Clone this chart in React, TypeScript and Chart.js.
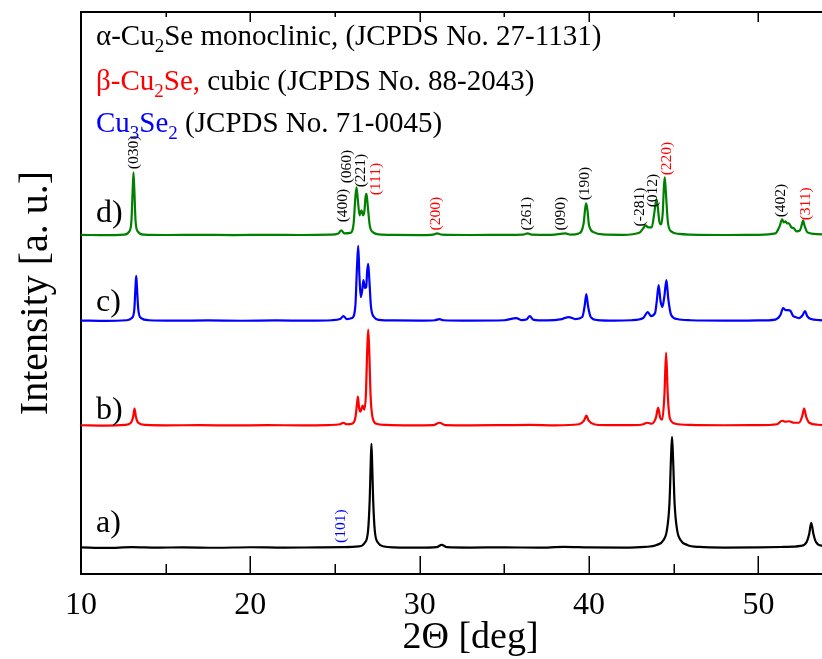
import React, { useEffect, useRef } from 'react';
import { Chart, registerables } from 'chart.js';

Chart.register(...registerables);

const FONT = 'Liberation Serif';

// Each trace: [2θ in deg, intensity above the trace's own baseline in a. u.]
const traceA: [number, number][] = [
  [10, 0.5], [11.5, 0], [13, 0.8], [14.5, 0.3], [16, 0.6], [18, 0.2], [20, 0.7], [22, 0.3], [24, 0.6],
  [25.5, 0.8], [26.4, 1.5], [26.75, 5], [26.95, 17], [27.05, 49], [27.11, 86], [27.15, 104], [27.19, 86],
  [27.25, 49], [27.35, 17], [27.55, 5], [27.9, 1.5], [28.5, 0.6], [30, 0.3], [31.0, 0.8], [31.3, 3],
  [31.6, 0.8], [33, 0.4], [35, 0.6], [37, 0.3], [38.5, 1.0], [40, 0.5], [42, 0.3], [43.3, 1], [44.0, 3],
  [44.4, 8], [44.6, 18], [44.75, 45], [44.84, 90], [44.9, 111], [44.96, 90], [45.05, 45], [45.2, 18],
  [45.4, 8], [45.8, 3], [46.5, 1], [48, 0.4], [50, 0.6], [51.5, 1], [52.5, 2], [52.85, 6], [53.0, 14],
  [53.12, 25], [53.25, 14], [53.4, 6], [53.8, 2], [54.5, 1], [56, 0.5],
];

const traceB: [number, number][] = [
  [10, 0.5], [11.5, 0.2], [12.6, 0.8], [12.95, 3], [13.08, 9], [13.16, 17], [13.24, 9], [13.38, 3],
  [13.8, 0.8], [15, 0.4], [17, 0.6], [19, 0.3], [21, 0.6], [23, 0.4], [24.6, 0.7], [25.3, 1.5],
  [25.48, 3], [25.7, 1.5], [26.0, 2], [26.2, 8], [26.3, 22], [26.35, 29], [26.42, 18], [26.5, 14],
  [26.58, 18], [26.64, 20], [26.72, 16], [26.82, 30], [26.9, 75], [26.96, 96], [27.02, 75], [27.1, 30],
  [27.22, 8], [27.45, 2], [28, 0.8], [29.5, 0.4], [30.8, 0.6], [31.17, 3], [31.5, 0.6], [33, 0.4],
  [35, 0.6], [36.5, 0.8], [38, 0.4], [39.4, 1.5], [39.7, 5], [39.84, 10], [39.98, 5], [40.3, 1.5],
  [41, 0.6], [42.5, 0.6], [43.2, 1.5], [43.43, 3], [43.7, 2], [43.95, 8], [44.08, 18], [44.2, 8],
  [44.32, 6], [44.45, 30], [44.55, 73], [44.65, 30], [44.78, 7], [45.1, 2], [46, 0.8], [48, 0.5],
  [50, 0.6], [51.1, 1.5], [51.4, 5], [51.6, 4], [51.8, 4.5], [52.1, 3], [52.4, 3], [52.58, 9],
  [52.7, 17], [52.82, 9], [53.0, 3], [53.5, 1], [55, 0.6], [56, 0.5],
];

const traceC: [number, number][] = [
  [10, 0.5], [11.5, 0.2], [12.7, 0.8], [13.0, 3], [13.15, 12], [13.22, 35], [13.26, 45], [13.3, 35],
  [13.38, 12], [13.55, 3], [14, 0.8], [15.5, 0.4], [17.5, 0.6], [19.5, 0.3], [21.5, 0.6], [23.5, 0.4],
  [24.8, 0.8], [25.3, 2], [25.5, 5], [25.7, 2], [26.0, 3], [26.2, 15], [26.3, 55], [26.37, 75],
  [26.44, 45], [26.52, 24], [26.6, 30], [26.68, 41], [26.76, 33], [26.84, 34], [26.9, 50], [26.96, 57],
  [27.03, 40], [27.12, 15], [27.3, 4], [27.6, 1.2], [28.5, 0.6], [30, 0.4], [30.9, 0.8], [31.17, 2],
  [31.4, 0.8], [33, 0.4], [35, 0.8], [35.7, 3], [36.0, 1], [36.3, 1.5], [36.5, 5], [36.7, 1.5],
  [37.5, 0.6], [38.4, 2], [38.8, 4], [39.2, 2], [39.6, 4], [39.74, 15], [39.84, 27], [39.94, 15],
  [40.1, 4], [40.5, 1], [41.5, 0.5], [42.5, 0.8], [43.2, 3], [43.47, 9], [43.65, 5], [43.9, 8],
  [44.0, 20], [44.11, 36], [44.22, 20], [44.33, 14], [44.45, 25], [44.57, 41], [44.68, 22], [44.85, 6],
  [45.2, 2], [46, 0.8], [48, 0.4], [50, 0.6], [51.0, 1.5], [51.3, 6], [51.46, 13], [51.6, 11],
  [51.75, 11], [51.9, 10], [52.05, 5], [52.2, 4], [52.4, 3], [52.62, 6], [52.75, 10], [52.88, 5],
  [53.1, 2], [53.6, 1], [55, 0.6], [56, 0.5],
];

const traceD: [number, number][] = [
  [10, 0.5], [11.5, 0.2], [12.55, 0.8], [12.85, 4], [12.98, 15], [13.05, 45], [13.1, 63], [13.15, 45],
  [13.22, 15], [13.35, 4], [13.7, 0.8], [15, 0.4], [17, 0.6], [19, 0.3], [21, 0.6], [23, 0.4],
  [24.7, 0.8], [25.2, 2], [25.37, 5], [25.55, 2], [25.9, 2.5], [26.1, 12], [26.2, 38], [26.27, 48],
  [26.35, 35], [26.45, 20], [26.56, 25], [26.66, 20], [26.74, 25], [26.8, 38], [26.86, 41.5],
  [26.93, 30], [27.05, 10], [27.25, 3], [27.6, 1], [28.5, 0.5], [30, 0.3], [30.8, 0.8], [31.03, 2],
  [31.3, 0.8], [33, 0.4], [35, 0.6], [36.1, 0.8], [36.38, 2], [36.6, 0.8], [37.8, 0.6], [38.6, 2],
  [38.9, 0.8], [39.4, 2], [39.68, 12], [39.78, 28], [39.83, 32], [39.9, 26], [40.0, 10], [40.3, 3],
  [40.8, 1], [42, 0.6], [43.0, 3], [43.2, 7], [43.33, 10], [43.5, 8], [43.7, 8], [43.85, 22],
  [43.95, 34], [43.98, 36], [44.05, 30], [44.15, 14], [44.25, 11], [44.35, 22], [44.42, 48],
  [44.47, 58], [44.53, 45], [44.65, 14], [44.85, 4], [45.3, 1.5], [46, 0.8], [48, 0.4], [50, 0.6],
  [51.0, 2], [51.25, 9], [51.4, 16], [51.5, 13], [51.6, 14], [51.7, 12], [51.8, 12], [51.95, 8],
  [52.1, 7], [52.25, 4], [52.45, 5], [52.57, 11], [52.64, 15], [52.72, 10], [52.9, 3], [53.3, 1.5],
  [54, 1], [56, 0.5],
];

const traceNames = ['a)', 'b)', 'c)', 'd)'];
const traceOffsets = [26, 148, 252.5, 338];
const traceColors = ['#000000', '#ff0000', '#0000ff', '#008000'];
const traceNameLift = [16, 7, 10, 13];

const xMin = 10;
const xMax = 56;
const yMin = 0;
const yMax = 561;
const xTickValues = [10, 20, 30, 40, 50];
const xMinorTickValues = [15, 25, 35, 45, 55];

// Reflection (hkl) labels: text, 2θ, height (a. u.) where the label starts, phase
const peakLabelText = ['(030)', '(400)', '(060)', '(221)', '(111)', '(200)', '(261)', '(090)', '(190)', '(-281)', '(012)', '(220)', '(402)', '(311)', '(101)'];
const peakLabelX = [13.1, 25.45, 25.7, 26.52, 27.42, 30.93, 36.35, 38.31, 39.73, 43.03, 43.8, 44.57, 51.34, 52.82, 25.32];
const peakLabelY = [404, 351, 390, 386, 378, 343, 343, 343, 373, 347, 366, 398, 356, 353, 31];
const peakLabelPhase = ['α', 'α', 'α', 'α', 'β', 'β', 'α', 'α', 'α', 'α', 'α', 'β', 'α', 'β', 'C'];

const phaseColors: Record<string, string> = { 'α': '#000000', 'β': '#ff0000', 'C': '#0000ff', 'k': '#000000' };

type Seg = { t: string; p: string; sub?: boolean };
const legendLine1: Seg[] = [
  { t: 'α-Cu', p: 'α' }, { t: '2', p: 'α', sub: true }, { t: 'Se monoclinic, (JCPDS No. 27-1131)', p: 'α' },
];
const legendLine2: Seg[] = [
  { t: 'β-Cu', p: 'β' }, { t: '2', p: 'β', sub: true }, { t: 'Se,', p: 'β' }, { t: ' cubic (JCPDS No. 88-2043)', p: 'k' },
];
const legendLine3: Seg[] = [
  { t: 'Cu', p: 'C' }, { t: '3', p: 'C', sub: true }, { t: 'Se', p: 'C' }, { t: '2', p: 'C', sub: true },
  { t: ' (JCPDS No. 71-0045)', p: 'k' },
];

const decorations = {
  id: 'decorations',
  afterDatasetsDraw(chart: any) {
    const { ctx, chartArea, scales } = chart;
    const xs = scales.x;
    const ys = scales.y;
    ctx.save();
    // top frame line
    ctx.strokeStyle = '#000';
    ctx.lineWidth = 2;
    ctx.beginPath();
    ctx.moveTo(chartArea.left - 1, chartArea.top);
    ctx.lineTo(chartArea.right, chartArea.top);
    ctx.stroke();
    // inward ticks, bottom and top
    ctx.lineWidth = 1.5;
    const drawTicks = (vals: number[], lenBottom: number, lenTop: number) => {
      for (const v of vals) {
        const px = Math.round(xs.getPixelForValue(v)) + 0.25;
        ctx.beginPath();
        ctx.moveTo(px, chartArea.bottom);
        ctx.lineTo(px, chartArea.bottom - lenBottom);
        ctx.moveTo(px, chartArea.top);
        ctx.lineTo(px, chartArea.top + lenTop);
        ctx.stroke();
      }
    };
    drawTicks(xTickValues, 18, 10);
    drawTicks(xMinorTickValues, 10, 5);

    // trace names
    ctx.font = `32px "${FONT}"`;
    ctx.textAlign = 'left';
    ctx.textBaseline = 'alphabetic';
    ctx.fillStyle = '#000';
    traceNames.forEach((name, i) => {
      const by = ys.getPixelForValue(traceOffsets[i]);
      ctx.fillText(name, chartArea.left + 15, by - traceNameLift[i]);
    });

    // peak labels
    ctx.font = `15.5px "${FONT}"`;
    ctx.textBaseline = 'middle';
    peakLabelText.forEach((t, i) => {
      const px = xs.getPixelForValue(peakLabelX[i]);
      const py = ys.getPixelForValue(peakLabelY[i]);
      ctx.save();
      ctx.translate(px, py);
      ctx.rotate(-Math.PI / 2);
      ctx.fillStyle = phaseColors[peakLabelPhase[i]];
      ctx.fillText(t, 0, 0);
      ctx.restore();
    });

    // phase legend
    ctx.textBaseline = 'alphabetic';
    const lines = [legendLine1, legendLine2, legendLine3];
    const baselines = [45, 90, 132];
    lines.forEach((segs, li) => {
      let x = chartArea.left + 15;
      for (const s of segs) {
        ctx.font = s.sub ? `19px "${FONT}"` : `29px "${FONT}"`;
        ctx.fillStyle = phaseColors[s.p];
        ctx.fillText(s.t, x, baselines[li] + (s.sub ? 7 : 0));
        x += ctx.measureText(s.t).width;
      }
    });
    ctx.restore();
  },
};

export default function App() {
  const ref = useRef<HTMLCanvasElement>(null);
  useEffect(() => {
    const canvas = ref.current;
    if (!canvas) return;
    const traces = [traceA, traceB, traceC, traceD];
    const chart = new Chart(canvas, {
      type: 'line',
      data: {
        datasets: traces.map((tr, i) => ({
          label: traceNames[i],
          data: tr.map(([x, y]) => ({ x, y: y + traceOffsets[i] })),
          borderColor: traceColors[i],
          backgroundColor: traceColors[i],
          borderWidth: 2.2,
          pointRadius: 0,
          fill: false,
          cubicInterpolationMode: 'monotone' as const,
        })),
      },
      options: {
        animation: false,
        responsive: false,
        devicePixelRatio: 1,
        layout: { padding: { left: 0, top: 12, right: 0, bottom: 5.8 } },
        plugins: { legend: { display: false }, tooltip: { enabled: false } },
        scales: {
          x: {
            type: 'linear',
            min: xMin,
            max: xMax,
            afterBuildTicks: (scale: any) => {
              scale.ticks = xTickValues.map((v) => ({ value: v }));
            },
            ticks: {
              autoSkip: false,
              maxRotation: 0,
              padding: 16,
              color: '#000',
              font: { family: FONT, size: 32, lineHeight: 1 },
              callback: (v: any) => String(v),
            },
            grid: { display: false, drawTicks: false },
            border: { display: true, color: '#000', width: 2 },
            title: {
              display: true,
              text: '2Θ [deg]',
              color: '#000',
              font: { family: FONT, size: 38, lineHeight: 0.8 },
              padding: { top: -15.2, bottom: 0 },
            },
          },
          y: {
            type: 'linear',
            min: yMin,
            max: yMax,
            ticks: { display: false },
            grid: { display: false, drawTicks: false },
            border: { display: true, color: '#000', width: 2 },
            title: {
              display: true,
              text: 'Intensity [a. u.]',
              color: '#000',
              font: { family: FONT, size: 40, lineHeight: 1 },
              padding: { top: 16, bottom: 25 },
            },
          },
        },
      },
      plugins: [decorations],
    });
    return () => chart.destroy();
  }, []);
  return (
    <div style={{ position: 'fixed', left: 0, top: 0, width: 822, height: 659, overflow: 'hidden', background: '#fff' }}>
      <canvas ref={ref} width={860} height={659} style={{ display: 'block', width: 860, height: 659 }} />
    </div>
  );
}
